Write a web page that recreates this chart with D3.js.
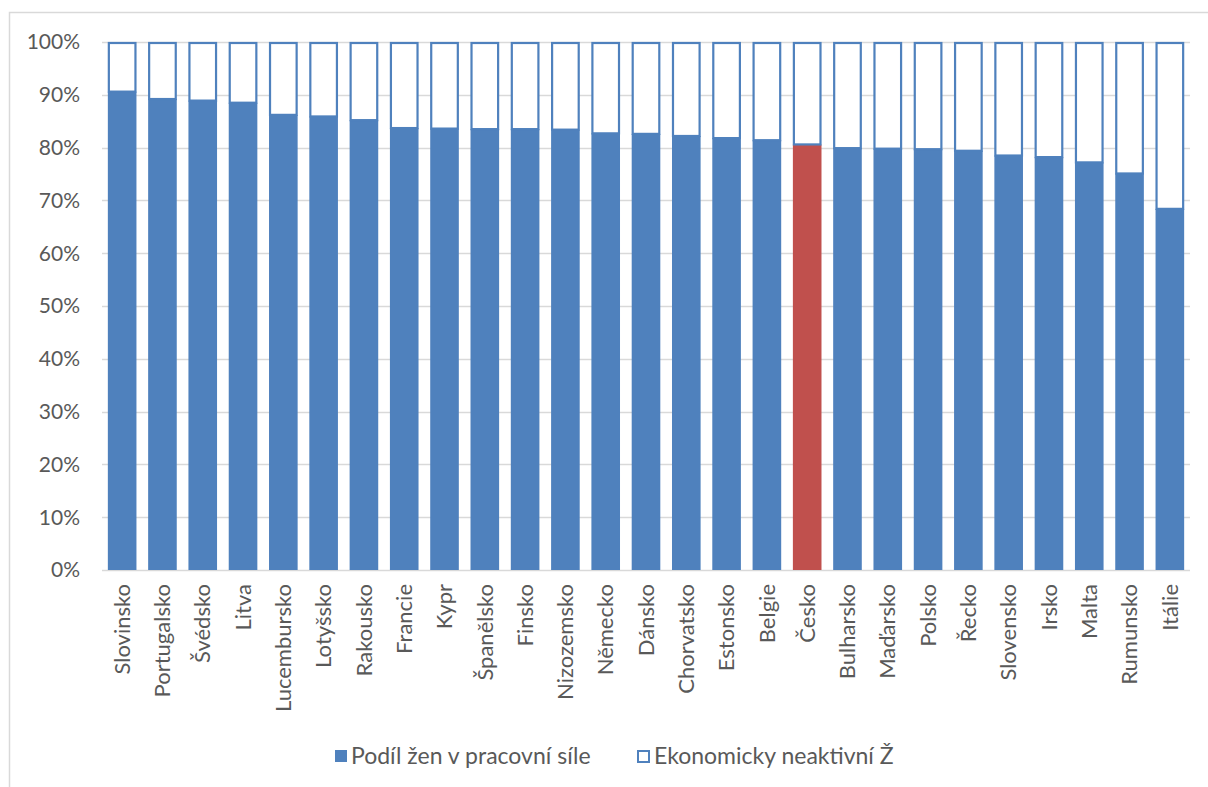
<!DOCTYPE html>
<html>
<head>
<meta charset="utf-8">
<script src="https://cdn.jsdelivr.net/npm/d3@7"></script>
<style>
  html, body { margin: 0; padding: 0; background: #fff; }
  svg { display: block; }
  text { font-family: Lato, "Open Sans", sans-serif; fill: #595959; }
</style>
</head>
<body>
<svg id="chart" width="1208" height="787"></svg>
<script>
const categories = ["Slovinsko","Portugalsko","Švédsko","Litva","Lucembursko","Lotyšsko","Rakousko","Francie","Kypr","Španělsko","Finsko","Nizozemsko","Německo","Dánsko","Chorvatsko","Estonsko","Belgie","Česko","Bulharsko","Maďarsko","Polsko","Řecko","Slovensko","Irsko","Malta","Rumunsko","Itálie"];
const activeShare = [90.6,89.2,88.9,88.5,86.2,85.9,85.2,83.7,83.6,83.5,83.5,83.4,82.7,82.6,82.2,81.8,81.4,80.6,79.9,79.8,79.7,79.4,78.5,78.2,77.2,75.1,68.4];
const inactiveShare = activeShare.map(v => 100 - v);
const yTicks = [0,10,20,30,40,50,60,70,80,90,100];
const seriesNames = ["Podíl žen v pracovní síle","Ekonomicky neaktivní Ž"];
const highlight = "Česko";

const svg = d3.select("#chart");
const blue = "#4F81BD", red = "#C0504D", grid = "#D9D9D9";

// chart area border
svg.append("rect").attr("x", 9.5).attr("y", 12.5).attr("width", 1400).attr("height", 1000)
  .attr("fill", "none").attr("stroke", grid).attr("stroke-width", 1.5);

const x = d3.scaleBand().domain(categories).range([102, 1190]).paddingInner(0.29).paddingOuter(0.145);
const y = d3.scaleLinear().domain([0, 100]).range([570, 42]);

// gridlines
svg.append("g").selectAll("line").data(yTicks).join("line")
  .attr("x1", 102).attr("x2", 1190)
  .attr("y1", d => Math.round(y(d)) + 0.5).attr("y2", d => Math.round(y(d)) + 0.5)
  .attr("stroke", grid).attr("stroke-width", 1.3);

// y axis labels
svg.append("g").selectAll("text").data(yTicks).join("text")
  .attr("x", 80).attr("y", d => y(d)).attr("dy", "0.35em")
  .attr("text-anchor", "end").attr("font-size", 21)
  .text(d => d + "%");

const data = categories.map((c, i) => ({c, a: activeShare[i], n: inactiveShare[i]}));

// filled bars
svg.append("g").selectAll("rect").data(data).join("rect")
  .attr("x", d => x(d.c)).attr("width", x.bandwidth())
  .attr("y", d => y(d.a)).attr("height", d => y(0) - y(d.a))
  .attr("fill", d => d.c === highlight ? red : blue);

// hollow bars
svg.append("g").selectAll("rect").data(data).join("rect")
  .attr("x", d => x(d.c) + 1).attr("width", x.bandwidth() - 2)
  .attr("y", d => y(d.a + d.n) + 1).attr("height", d => y(d.a) - y(d.a + d.n) - 1)
  .attr("fill", "#fff").attr("stroke", blue).attr("stroke-width", 2.2);

// category labels
svg.append("g").selectAll("text").data(categories).join("text")
  .attr("transform", d => `translate(${x(d) + x.bandwidth() / 2},584) rotate(-90)`)
  .attr("dy", "0.35em").attr("text-anchor", "end").attr("font-size", 22)
  .text(d => d);

// legend
const lg = svg.append("g");
lg.append("rect").attr("x", 335).attr("y", 750).attr("width", 12).attr("height", 12).attr("fill", blue);
lg.append("text").attr("x", 351).attr("y", 764).attr("font-size", 23).text(seriesNames[0]);
lg.append("rect").attr("x", 638).attr("y", 751).attr("width", 11).attr("height", 11)
  .attr("fill", "#fff").attr("stroke", blue).attr("stroke-width", 2);
lg.append("text").attr("x", 654).attr("y", 764).attr("font-size", 23).text(seriesNames[1]);
</script>
</body>
</html>
